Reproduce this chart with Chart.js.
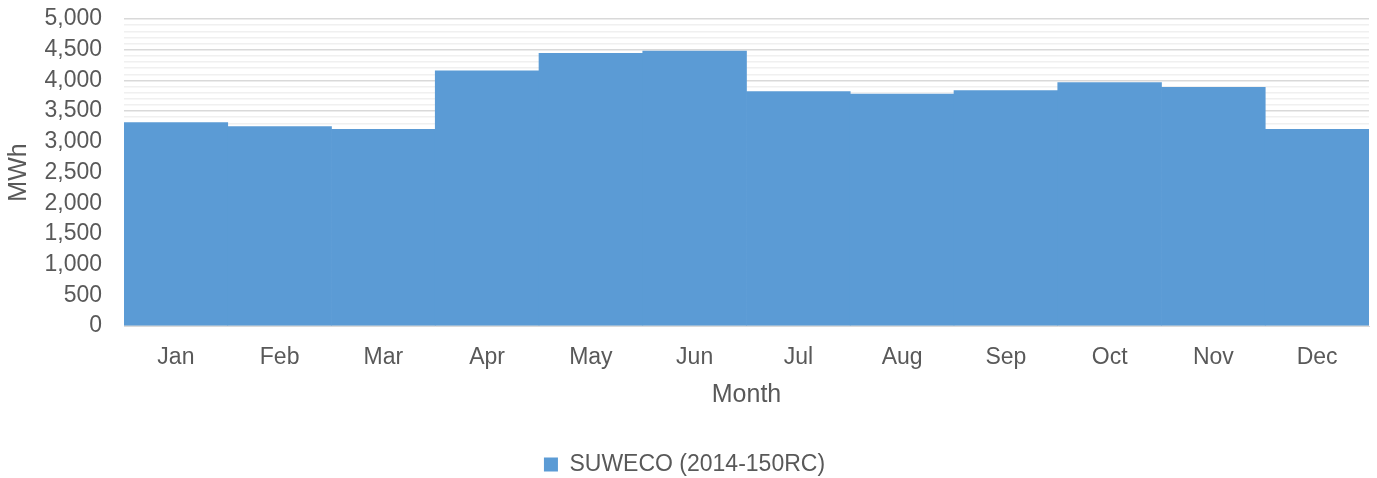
<!DOCTYPE html>
<html>
<head>
<meta charset="utf-8">
<script src="https://cdn.jsdelivr.net/npm/chart.js@4.4.1/dist/chart.umd.min.js"></script>
<style>
    html, body { margin: 0; padding: 0; background: #fff; }
    #wrap { width: 1377px; height: 478px; }
</style>
</head>
<body>
<div id="wrap"><canvas id="energyChart" width="1377" height="478"></canvas></div>
<script>
// Monthly energy output
const months = ['Jan', 'Feb', 'Mar', 'Apr', 'May', 'Jun', 'Jul', 'Aug', 'Sep', 'Oct', 'Nov', 'Dec'];
const energyMWh = [3312, 3247, 3203, 4155, 4440, 4477, 3819, 3779, 3835, 3966, 3889, 3203];
const seriesLabel = 'SUWECO (2014-150RC)';
const yMax = 5000;
const yMajorStep = 500;
const yMinorStep = 100;

const textColor = '#595959';
const fontFamily = '"Liberation Sans", Arial, sans-serif';

document.addEventListener('DOMContentLoaded', function() {
    const ctx = document.getElementById('energyChart').getContext('2d');

    new Chart(ctx, {
        type: 'bar',
        data: {
            labels: months,
            datasets: [{
                label: seriesLabel,
                data: energyMWh,
                backgroundColor: '#5B9BD5',
                borderWidth: 0,
                barPercentage: 1,
                categoryPercentage: 1
            }]
        },
        options: {
            responsive: false,
            animation: false,
            layout: {
                padding: { top: 19, right: 8, left: 0, bottom: -8 }
            },
            plugins: {
                legend: {
                    position: 'bottom',
                    labels: {
                        color: textColor,
                        font: { family: fontFamily, size: 23 },
                        boxWidth: 14,
                        boxHeight: 14,
                        padding: 2
                    }
                },
                tooltip: { enabled: false }
            },
            scales: {
                x: {
                    offset: true,
                    grid: { display: false, drawTicks: false },
                    border: { color: '#d9d9d9' },
                    ticks: {
                        color: textColor,
                        font: { family: fontFamily, size: 23 },
                        padding: 18,
                        maxRotation: 0
                    },
                    title: {
                        display: true,
                        text: 'Month',
                        color: textColor,
                        font: { family: fontFamily, size: 25 },
                        padding: { top: 4, bottom: 41 }
                    },
                    afterFit: function(scale) {
                        scale.height = 125;
                    }
                },
                y: {
                    min: 0,
                    max: yMax,
                    grid: {
                        drawTicks: false,
                        color: function(c) {
                            return c.tick && c.tick.value % yMajorStep === 0 ? '#d9d9d9' : '#f0f0f0';
                        },
                        lineWidth: 1.5
                    },
                    border: { display: false },
                    ticks: {
                        stepSize: yMinorStep,
                        autoSkip: false,
                        maxTicksLimit: 100,
                        color: textColor,
                        font: { family: fontFamily, size: 23 },
                        padding: 22,
                        callback: function(value) {
                            return value % yMajorStep === 0 ? value.toLocaleString('en-US') : '';
                        }
                    },
                    title: {
                        display: true,
                        text: 'MWh',
                        color: textColor,
                        font: { family: fontFamily, size: 25 },
                        padding: { top: 4, bottom: 0 }
                    },
                    afterFit: function(scale) {
                        scale.width = 124;
                        // tick padding would otherwise push the plot top down
                        scale.paddingTop = 0;
                        scale.paddingBottom = 0;
                    }
                }
            }
        }
    });
});
</script>
</body>
</html>
